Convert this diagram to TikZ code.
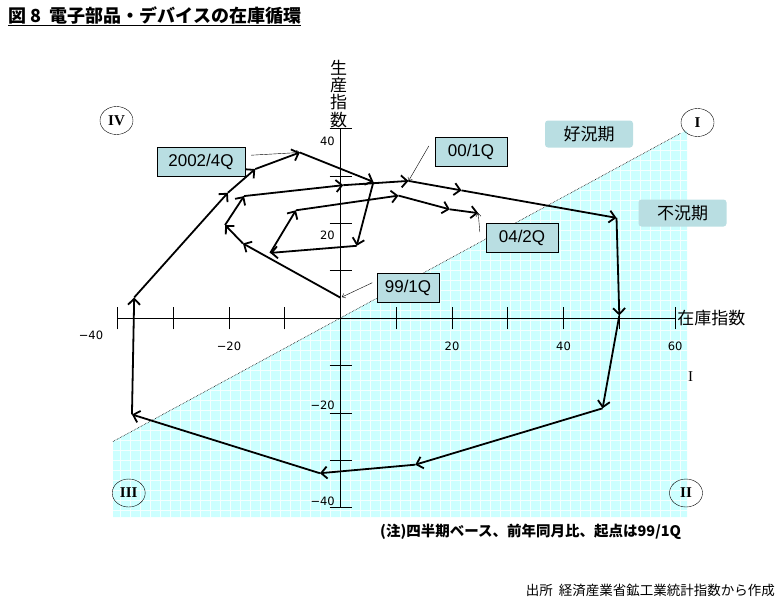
\documentclass[tikz,border=0pt]{standalone}
\usepackage{fontspec}
\setmainfont{Liberation Sans}
\newfontfamily\jpfont{Noto Sans CJK JP}
\newfontfamily\serifroman{Liberation Serif}
\newfontfamily\tickfont{DejaVu Sans}
\usepackage{tikz}
\usetikzlibrary{shapes, arrows.meta, positioning}
\definecolor{tagfill}{HTML}{B9DEE2}
\definecolor{slumpfill}{HTML}{CCFFFF}
\tikzset{
    % boxes, quadrant marks and the cycle line
    tagbox/.style = {rectangle, draw=black, fill=tagfill, minimum height=29pt, inner sep=0pt, font=\fontsize{17}{17}\selectfont},
    phasebox/.style = {rectangle, rounded corners=3pt, fill=tagfill, minimum width=88pt, minimum height=27pt, inner sep=0pt, font=\jpfont\fontsize{17}{17}\selectfont},
    quadrant/.style = {ellipse, draw, thin, minimum width=33pt, minimum height=28pt, inner sep=0pt, font=\serifroman\bfseries\fontsize{15}{15}\selectfont},
    trend/.style = {line width=1.8pt, -{Straight Barb[length=6pt,width=12pt]}},
    pointer/.style = {thin, -{Straight Barb[length=3pt,width=5pt]}},
    ticklabel/.style = {font=\tickfont\fontsize{11.5}{11.5}\selectfont, inner sep=0pt}
}
\begin{document}
\begin{tikzpicture}[x=1pt, y=-1pt]
\useasboundingbox (0,0) rectangle (783,600);

% title
\node[anchor=west, inner sep=0pt, font=\jpfont\bfseries\fontsize{18}{18}\selectfont] (title) at (8,15) {図 8\ \ 電子部品・デバイスの在庫循環};
\draw[line width=1pt] ([yshift=-2pt]title.south west) -- ([yshift=-2pt]title.south east);

% slump area
\fill[slumpfill] (113,441.5) -- (687,130) -- (687,517) -- (113,517) -- cycle;
\begin{scope}
  \clip (113,441.5) -- (687,130) -- (687,517) -- (113,517) -- cycle;
  \draw[white, line width=0.5pt, opacity=0.8] (100,120) grid[step=10pt] (700,520);
\end{scope}
\draw[densely dotted, line width=0.6pt] (113,441.5) -- (681,133);

\begin{scope}[shift={(340.5,318.3)}, x=5.576pt, y=4.7375pt]
  % axes
  \draw[line width=0.9pt] (-40,0) -- (60,0) coordinate (xend);
  \draw[line width=0.9pt] (0,-40) -- (0,40) coordinate (ytop);
  \foreach \x in {-40,-30,-20,-10,10,20,30,40,50,60}
    \draw[line width=0.9pt] (\x,0) ++(0,-11pt) -- ++(0,22pt);
  \foreach \y in {-40,-30,-20,-10,10,20,30,40}
    \draw[line width=0.9pt] (0,\y) ++(-11pt,0) -- ++(22pt,0);

  \foreach \x/\t [count=\i] in {-20/−20, 20/20, 40/40, 60/60}
    \node[ticklabel, yshift=-27.7pt] (xl\i) at (\x,0) {\t};
  \node[ticklabel, xshift=-26.5pt, yshift=-16.7pt] (xl0) at (-40,0) {−40};
  \foreach \y/\t/\dy [count=\i] in {40/40/-12.4, 20/20/-11.7, -20/−20/7.3, -40/−40/6.6}
    \node[ticklabel, anchor=east, xshift=-5.5pt, yshift=\dy pt] (yl\i) at (0,\y) {\t};

  \node[font=\jpfont\fontsize{17}{17}\selectfont, inner sep=0pt, right=2pt of xend] (xtitle) {在庫指数};
  \node[font=\jpfont\fontsize{17}{17.3}\selectfont, inner sep=0pt, align=center, above=1pt of ytop, xshift=-2pt] (ytitle) {生\\産\\指\\数};

  % quarterly points, 99/1Q to 04/2Q
  \foreach \px/\py [count=\i from 0] in {0/4.35, -17.5/15.8, -20.7/19.7, -17.3/25.8, 0.5/28.1, 12.2/29.0,
      21.7/27.0, 49.5/21.2, 50.0/0.6, 47.0/-19.0, 13.4/-30.9, -3.7/-32.7, -37.4/-20.3, -37.0/4.4,
      -20.2/26.5, -15.3/31.5, -7.3/35.0, 5.9/28.8, 2.9/15.3, -12.6/13.8, -8.0/22.8, 10.4/25.9,
      19.6/23.0, 24.7/22.2}
    \coordinate (p\i) at (\px,\py);
  \foreach \i [remember=\i as \j (initially 0)] in {1,...,23}
    \draw[trend] (p\j) -- (p\i);
\end{scope}

% labels
\node[tagbox, minimum width=88pt] (l2002) at (201,161.7) {2002/4Q};
\node[tagbox, minimum width=72pt] (l00) at (471,152) {00/1Q};
\node[tagbox, minimum width=72pt] (l04) at (522,238) {04/2Q};
\node[tagbox, minimum width=62pt] (l99) at (408,288) {99/1Q};
\node[phasebox] (boom) at (589,134) {好況期};
\node[phasebox] (slump) at (682.5,213) {不況期};

\draw[pointer] ([shift={(6,-6.5)}]l2002.east) -- (p16);
\draw[pointer] ([shift={(-6,-6)}]l00.west) -- (p5);
\draw[pointer] ([shift={(-6,-6)}]l04.west) -- (p23);
\draw[pointer, shorten >=1.5pt] ([shift={(-4.5,-5.3)}]l99.west) -- (p0);

% quadrants
\node[quadrant] (q4) at (116.5,120.5) {IV};
\node[quadrant] (q1) at (697.5,122.5) {I};
\node[quadrant] (q3) at (128.7,493) {III};
\node[quadrant] (q2) at (686,493) {II};
\node[font=\serifroman\fontsize{15}{15}\selectfont, inner sep=0pt] (stray) at (690.5,377) {I};

% notes
\node[anchor=west, inner sep=0pt, font=\jpfont\bfseries\fontsize{14.5}{14.5}\selectfont] (note) at (380,531.5) {(注)四半期ベース、前年同月比、起点は99/1Q};
\node[anchor=east, inner sep=0pt, font=\jpfont\fontsize{13.5}{13.5}\selectfont] (source) at (775,590) {出所\ \ 経済産業省鉱工業統計指数から作成};
\end{tikzpicture}
\end{document}
